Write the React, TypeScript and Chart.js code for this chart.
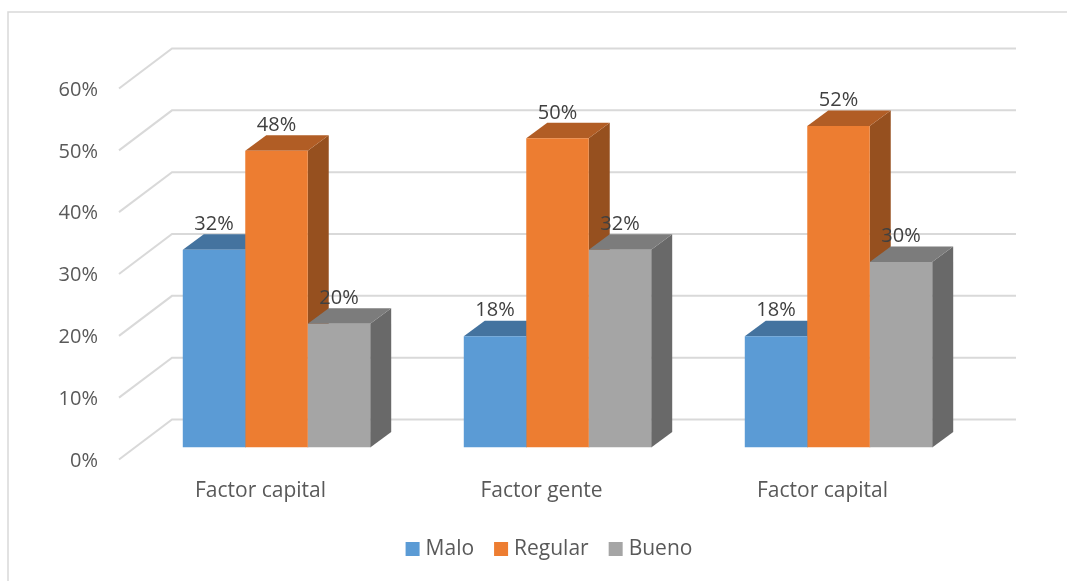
import React, { useEffect, useRef } from "react";
import { Chart, registerables } from "chart.js";

Chart.register(...registerables);

const categories = ["Factor capital", "Factor gente", "Factor capital"];
const seriesNames = ["Malo", "Regular", "Bueno"];
const malo = [32, 18, 18];
const regular = [48, 50, 52];
const bueno = [20, 32, 30];
const yTicksMax = 60;

const frontColors = ["#5B9BD5", "#ED7D31", "#A5A5A5"];
const topColors = ["#44739F", "#B15D25", "#7C7C7C"];
const sideColors = ["#3A6288", "#96501F", "#696969"];

const FONT = "Open Sans";
const DEPTH_X = 21;
const DEPTH_Y = 15.5;

const frame3d = {
  id: "frame3d",
  beforeDraw(chart: any) {
    const { ctx } = chart;
    ctx.save();
    ctx.fillStyle = "#FFFFFF";
    ctx.fillRect(0, 0, chart.width, chart.height);
    ctx.strokeStyle = "#D9D9D9";
    ctx.lineWidth = 1.5;
    ctx.beginPath();
    ctx.moveTo(8, chart.height);
    ctx.lineTo(8, 12);
    ctx.lineTo(chart.width, 12);
    ctx.stroke();
    ctx.restore();
  },
  beforeDatasetsDraw(chart: any) {
    const { ctx } = chart;
    const yScale = chart.scales.y;
    ctx.save();
    ctx.strokeStyle = "#D9D9D9";
    ctx.lineWidth = 2;
    yScale.ticks.forEach((t: any) => {
      const y = yScale.getPixelForValue(t.value);
      ctx.beginPath();
      ctx.moveTo(119, y + 12);
      ctx.lineTo(172, y - 28);
      ctx.lineTo(1016, y - 28);
      ctx.stroke();
    });
    chart.data.datasets.forEach((_ds: any, i: number) => {
      chart.getDatasetMeta(i).data.forEach((bar: any) => {
        const p = bar.getProps(["x", "y", "base", "width"], true);
        const l = p.x - p.width / 2;
        const r = p.x + p.width / 2;
        ctx.fillStyle = sideColors[i];
        ctx.beginPath();
        ctx.moveTo(r, p.y);
        ctx.lineTo(r + DEPTH_X, p.y - DEPTH_Y);
        ctx.lineTo(r + DEPTH_X, p.base - DEPTH_Y);
        ctx.lineTo(r, p.base);
        ctx.closePath();
        ctx.fill();
        ctx.fillStyle = topColors[i];
        ctx.beginPath();
        ctx.moveTo(l, p.y);
        ctx.lineTo(l + DEPTH_X, p.y - DEPTH_Y);
        ctx.lineTo(r + DEPTH_X, p.y - DEPTH_Y);
        ctx.lineTo(r, p.y);
        ctx.closePath();
        ctx.fill();
      });
    });
    ctx.restore();
  },
  afterDatasetsDraw(chart: any) {
    const { ctx } = chart;
    ctx.save();
    ctx.fillStyle = "#404040";
    ctx.font = `20px "${FONT}"`;
    ctx.textAlign = "center";
    ctx.textBaseline = "middle";
    chart.data.datasets.forEach((ds: any, di: number) => {
      chart.getDatasetMeta(di).data.forEach((bar: any, j: number) => {
        const p = bar.getProps(["x", "y"], true);
        ctx.fillText(`${ds.data[j]}%`, p.x, p.y - 25.5);
      });
    });
    ctx.restore();
  },
  afterDraw(chart: any) {
    const { ctx } = chart;
    ctx.save();
    ctx.font = `21px "${FONT}"`;
    ctx.textAlign = "left";
    ctx.textBaseline = "middle";
    const box = 14;
    const gap = 6;
    const itemGap = 20;
    const widths = seriesNames.map((n) => ctx.measureText(n).width);
    const total =
      widths.reduce((a, w) => a + w + box + gap, 0) + itemGap * (seriesNames.length - 1);
    let x = 549 - total / 2;
    seriesNames.forEach((n, i) => {
      ctx.fillStyle = frontColors[i];
      ctx.fillRect(x, 542, box, box);
      ctx.fillStyle = "#595959";
      ctx.fillText(n, x + box + gap, 549.5);
      x += box + gap + widths[i] + itemGap;
    });
    ctx.restore();
  },
};

export default function App() {
  const ref = useRef<HTMLCanvasElement | null>(null);
  useEffect(() => {
    const chart = new Chart(ref.current as HTMLCanvasElement, {
      type: "bar",
      data: {
        labels: categories,
        datasets: [
          { label: seriesNames[0], data: malo, backgroundColor: frontColors[0] },
          { label: seriesNames[1], data: regular, backgroundColor: frontColors[1] },
          { label: seriesNames[2], data: bueno, backgroundColor: frontColors[2] },
        ],
      },
      options: {
        responsive: false,
        animation: false,
        devicePixelRatio: 1,
        layout: { padding: { left: 0, right: 88, top: 76.5, bottom: 52.5 } },
        datasets: { bar: { barPercentage: 1, categoryPercentage: 0.667 } },
        plugins: {
          tooltip: { enabled: false },
          legend: { display: false },
        },
        scales: {
          x: {
            grid: { display: false, drawTicks: false },
            border: { display: false },
            afterFit: (s: any) => {
              s.height = 81;
            },
            ticks: {
              padding: 31,
              labelOffset: -16,
              maxRotation: 0,
              color: "#595959",
              font: { family: FONT, size: 21 },
            },
          },
          y: {
            min: 0,
            max: yTicksMax,
            grid: { display: false, drawTicks: false },
            border: { display: false },
            afterFit: (s: any) => {
              s.width = 136;
            },
            ticks: {
              stepSize: 10,
              padding: 38,
              labelOffset: 13.5,
              color: "#595959",
              font: { family: FONT, size: 20 },
              callback: (v: any) => `${v}%`,
            },
          },
        },
      },
      plugins: [frame3d],
    } as any);
    return () => chart.destroy();
  }, []);
  return (
    <canvas
      ref={ref}
      width={1067}
      height={581}
      style={{ position: "fixed", left: 0, top: 0, display: "block" }}
    />
  );
}
